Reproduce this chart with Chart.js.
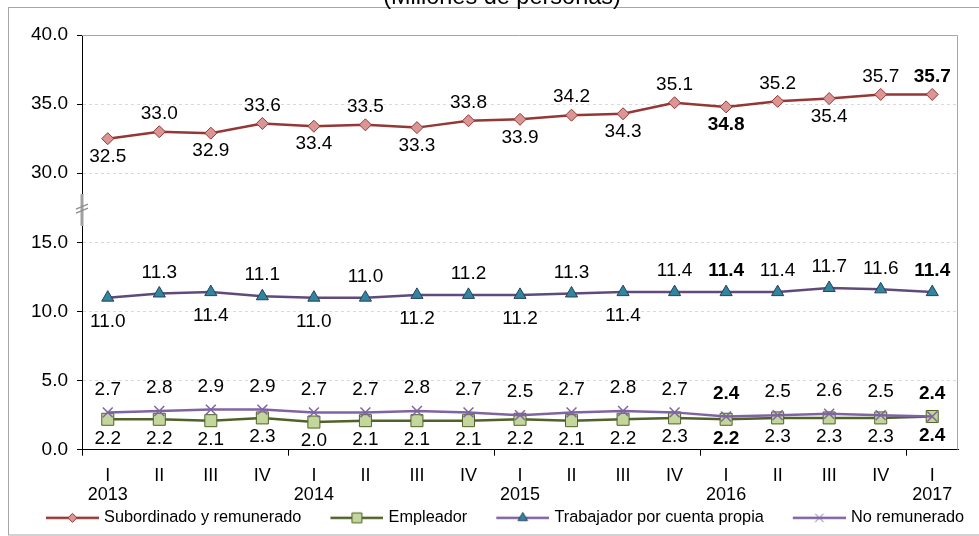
<!DOCTYPE html>
<html>
<head>
<meta charset="utf-8">
<script src="https://cdn.jsdelivr.net/npm/chart.js@4.4.0/dist/chart.umd.min.js"></script>
<style>
  html, body { margin: 0; padding: 0; background: #fff; }
  #contenedor { width: 979px; height: 536px; }
</style>
</head>
<body>
<div id="contenedor"><canvas id="grafica" width="979" height="536"></canvas></div>
<script>
// Eje X: trimestres y años
const trimestres = ['I', 'II', 'III', 'IV', 'I', 'II', 'III', 'IV', 'I', 'II', 'III', 'IV', 'I', 'II', 'III', 'IV', 'I'];
const anios = ['2013', '', '', '', '2014', '', '', '', '2015', '', '', '', '2016', '', '', '', '2017'];

// Series (millones de personas)
const subordinado = [32.5, 33.0, 32.9, 33.6, 33.4, 33.5, 33.3, 33.8, 33.9, 34.2, 34.3, 35.1, 34.8, 35.2, 35.4, 35.7, 35.7];
const empleador = [2.2, 2.2, 2.1, 2.3, 2.0, 2.1, 2.1, 2.1, 2.2, 2.1, 2.2, 2.3, 2.2, 2.3, 2.3, 2.3, 2.4];
const cuentaPropia = [11.0, 11.3, 11.4, 11.1, 11.0, 11.0, 11.2, 11.2, 11.2, 11.3, 11.4, 11.4, 11.4, 11.4, 11.7, 11.6, 11.4];
const noRemunerado = [2.7, 2.8, 2.9, 2.9, 2.7, 2.7, 2.8, 2.7, 2.5, 2.7, 2.8, 2.7, 2.4, 2.5, 2.6, 2.5, 2.4];

// Marcas del eje Y (eje partido entre 15 y 30)
const ticksInferior = [0, 5, 10, 15];
const ticksSuperior = [30, 35, 40];

// Posición de las etiquetas de datos: 'a' arriba, 'b' abajo
const posSubordinado = ['b', 'a', 'b', 'a', 'b', 'a', 'b', 'a', 'b', 'a', 'b', 'a', 'b', 'a', 'b', 'a', 'a'];
const posCuentaPropia = ['b', 'a', 'b', 'a', 'b', 'a', 'b', 'a', 'b', 'a', 'b', 'a', 'a', 'a', 'a', 'a', 'a'];
// Trimestres resaltados en negrita
const destacados = [12, 16];

const FUENTE = "'Liberation Sans', Arial, sans-serif";

// Icono de la leyenda: línea con el marcador en medio.
// Lleva un margen transparente a la izquierda para separar los elementos
// y sobresale 3px a cada lado de la caja de 71px.
function iconoLeyenda(colorLinea, estilo, radio, relleno, borde) {
    const ancho = 77;
    const inicio = ancho - 53;
    const c = document.createElement('canvas');
    c.width = ancho;
    c.height = 16;
    const g = c.getContext('2d');
    g.strokeStyle = colorLinea;
    g.lineWidth = 2.5;
    g.beginPath();
    g.moveTo(inicio, 8);
    g.lineTo(ancho, 8);
    g.stroke();
    g.fillStyle = relleno;
    g.strokeStyle = borde;
    g.lineWidth = 1;
    Chart.helpers.drawPoint(g, { pointStyle: estilo, radius: radio, borderWidth: 1, rotation: 0 }, inicio + 26.5, 8);
    return c;
}

// Etiquetas de valores sobre / bajo cada punto
const etiquetasPlugin = {
    id: 'etiquetas',
    afterDatasetsDraw(chart) {
        const ctx = chart.ctx;
        ctx.save();
        ctx.fillStyle = '#000';
        ctx.textAlign = 'center';
        ctx.textBaseline = 'middle';
        chart.data.datasets.forEach((ds, i) => {
            const meta = chart.getDatasetMeta(i);
            meta.data.forEach((pt, j) => {
                const arriba = ds.posEtiqueta[j] === 'a';
                const dy = arriba ? -ds.despArriba : ds.despAbajo;
                ctx.font = (destacados.includes(j) ? 'bold ' : '') + '19px ' + FUENTE;
                ctx.fillText(ds.data[j].toFixed(1), pt.x, pt.y + dy);
            });
        });
        ctx.restore();
    }
};

// Marco exterior, subtítulo y bordes del área de trazado
const marcoPlugin = {
    id: 'marco',
    beforeDraw(chart) {
        const ctx = chart.ctx;
        ctx.save();
        ctx.fillStyle = '#fff';
        ctx.fillRect(0, 0, chart.width, chart.height);
        ctx.strokeStyle = '#a6a6a6';
        ctx.lineWidth = 1;
        ctx.strokeRect(8.5, 7.5, 985, 527.5);
        ctx.fillStyle = '#000';
        ctx.font = '23.5px ' + FUENTE;
        ctx.textAlign = 'center';
        ctx.textBaseline = 'alphabetic';
        ctx.fillText('(Millones de personas)', 502, 3.5);
        ctx.restore();
    },
    beforeDatasetsDraw(chart) {
        const a = chart.chartArea;
        const ctx = chart.ctx;
        ctx.save();
        ctx.strokeStyle = '#a6a6a6';
        ctx.lineWidth = 1;
        ctx.beginPath();
        ctx.moveTo(a.left, a.top + 0.5);
        ctx.lineTo(a.right - 0.5, a.top + 0.5);
        ctx.lineTo(a.right - 0.5, a.bottom);
        ctx.stroke();
        ctx.restore();
    }
};

// Marca de corte del eje Y
const cortePlugin = {
    id: 'corte',
    afterDraw(chart) {
        const s = chart.scales.ySup;
        const ctx = chart.ctx;
        const x = s.right;
        const y1 = s.getPixelForValue(28.5);
        const y2 = s.getPixelForValue(26.2);
        const ym = s.getPixelForValue(27.4);
        ctx.save();
        ctx.fillStyle = '#fff';
        ctx.fillRect(x - 2, y1, 4, y2 - y1);
        ctx.strokeStyle = '#a0a0a0';
        ctx.lineWidth = 3;
        ctx.beginPath();
        ctx.moveTo(x, y1);
        ctx.lineTo(x, y2);
        ctx.stroke();
        ctx.lineWidth = 1.5;
        ctx.strokeStyle = '#909090';
        ctx.beginPath();
        ctx.moveTo(x - 6, ym);
        ctx.lineTo(x + 6, ym - 5);
        ctx.moveTo(x - 6, ym + 4);
        ctx.lineTo(x + 6, ym - 1);
        ctx.stroke();
        ctx.restore();
    }
};

const etiquetasX = trimestres.map((t, i) => (anios[i] ? [t, anios[i]] : t));

const ejeY = (minimo, maximo, marcas) => ({
    position: 'left',
    stack: 'ejeY',
    stackWeight: 1,
    min: minimo,
    max: maximo,
    afterBuildTicks: s => { s.ticks = marcas.map(v => ({ value: v })); },
    afterFit: s => { s.width = 72; },
    ticks: {
        color: '#000',
        padding: 9,
        font: { family: FUENTE, size: 19 },
        callback: v => v.toFixed(1)
    },
    grid: { color: '#d9d9d9', tickColor: '#000', tickLength: 5 },
    border: { color: '#000', width: 1, dash: [3, 3] }
});

const ctx = document.getElementById('grafica').getContext('2d');
new Chart(ctx, {
    type: 'line',
    data: {
        labels: etiquetasX,
        datasets: [
            {
                label: 'Subordinado y remunerado',
                data: subordinado,
                yAxisID: 'ySup',
                borderColor: '#953735',
                borderWidth: 2.5,
                pointStyle: 'rectRot',
                pointRadius: 6,
                pointBackgroundColor: '#d99694',
                pointBorderColor: '#953735',
                pointBorderWidth: 1,
                posEtiqueta: posSubordinado,
                despArriba: 18,
                despAbajo: 18,
                icono: iconoLeyenda('#953735', 'rectRot', 4.5, '#d99694', '#953735'),
                order: 3
            },
            {
                label: 'Empleador',
                data: empleador,
                yAxisID: 'yInf',
                borderColor: '#4f6228',
                borderWidth: 2.5,
                pointStyle: 'rect',
                pointRadius: 8.5,
                pointBackgroundColor: '#c3d69b',
                pointBorderColor: '#4f6228',
                pointBorderWidth: 1,
                posEtiqueta: empleador.map(() => 'b'),
                despArriba: 19,
                despAbajo: 19,
                icono: iconoLeyenda('#4f6228', 'rect', 7, '#c3d69b', '#4f6228'),
                order: 2
            },
            {
                label: 'Trabajador por cuenta propia',
                data: cuentaPropia,
                yAxisID: 'yInf',
                borderColor: '#604a7b',
                borderWidth: 2.5,
                pointStyle: 'triangle',
                pointRadius: 7,
                pointBackgroundColor: '#31859c',
                pointBorderColor: '#254061',
                pointBorderWidth: 1,
                posEtiqueta: posCuentaPropia,
                despArriba: 21,
                despAbajo: 24,
                icono: iconoLeyenda('#8064a2', 'triangle', 5.5, '#31859c', '#254061'),
                order: 4
            },
            {
                label: 'No remunerado',
                data: noRemunerado,
                yAxisID: 'yInf',
                borderColor: '#8064a2',
                borderWidth: 2.5,
                pointStyle: 'crossRot',
                pointRadius: 7,
                pointBackgroundColor: '#8064a2',
                pointBorderColor: '#8064a2',
                pointBorderWidth: 1.5,
                posEtiqueta: noRemunerado.map(() => 'a'),
                despArriba: 23,
                despAbajo: 23,
                icono: iconoLeyenda('#8064a2', 'crossRot', 6, '#8064a2', '#8064a2'),
                order: 1
            }
        ]
    },
    options: {
        responsive: false,
        animation: false,
        layout: { padding: { top: 35, right: 0, left: 10, bottom: 0 } },
        plugins: {
            tooltip: { enabled: false },
            legend: {
                position: 'bottom',
                labels: {
                    usePointStyle: true,
                    pointStyleWidth: 71,
                    padding: 8,
                    color: '#000',
                    font: { family: FUENTE, size: 16.3 },
                    generateLabels: chart => chart.data.datasets.map((ds, i) => ({
                        text: ds.label,
                        pointStyle: ds.icono,
                        datasetIndex: i,
                        hidden: false,
                        lineWidth: 0,
                        fillStyle: 'transparent',
                        strokeStyle: 'transparent',
                        fontColor: '#000'
                    }))
                }
            }
        },
        scales: {
            x: {
                offset: true,
                grid: {
                    offset: true,
                    drawOnChartArea: false,
                    tickLength: 6,
                    color: c => (c.index % 4 === 0 ? '#000' : 'rgba(0,0,0,0)')
                },
                border: { color: '#000', width: 1 },
                ticks: {
                    color: '#000',
                    padding: 11,
                    maxRotation: 0,
                    autoSkip: false,
                    font: { family: FUENTE, size: 18, lineHeight: 1.05 }
                },
                afterFit: s => { s.height = 52; }
            },
            yInf: ejeY(0, 15, ticksInferior),
            ySup: ejeY(25, 40, ticksSuperior),
            // Hueco vacío a la derecha del área de trazado
            yDer: {
                position: 'right',
                ticks: { display: false },
                grid: { display: false },
                border: { display: false },
                afterFit: s => { s.width = 21; }
            }
        }
    },
    plugins: [marcoPlugin, etiquetasPlugin, cortePlugin]
});
</script>
</body>
</html>
